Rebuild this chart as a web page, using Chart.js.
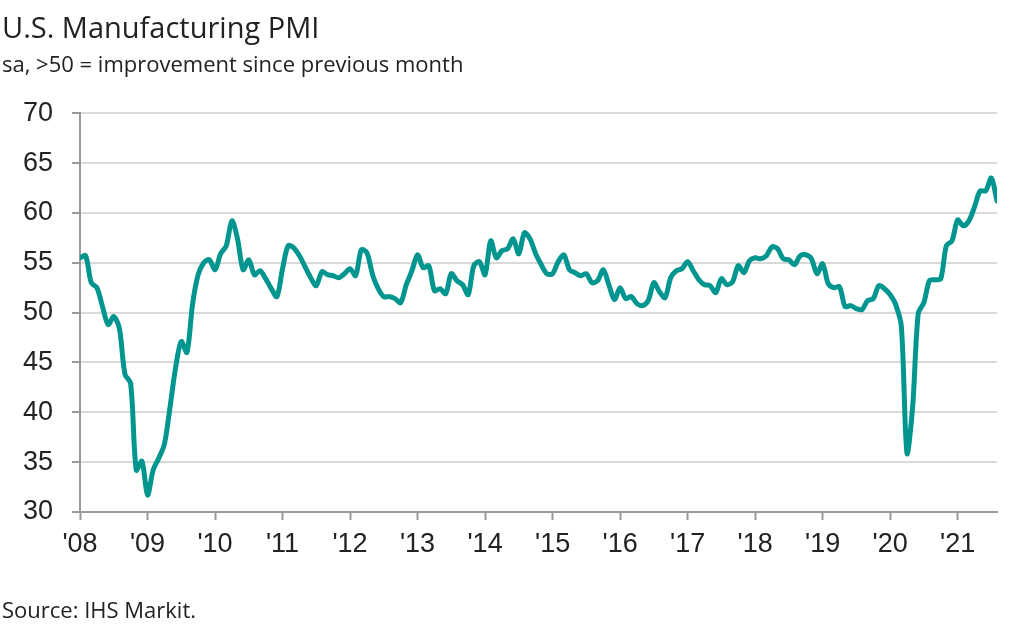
<!DOCTYPE html>
<html>
<head>
<meta charset="utf-8">
<script src="https://cdn.jsdelivr.net/npm/chart.js@4"></script>
<style>
  html, body { margin: 0; padding: 0; background: #fff; }
  #wrap { position: relative; width: 1024px; height: 641px; }
  #source { position: absolute; left: 2px; top: 598px; font: 22px "Open Sans", sans-serif; line-height: 22px; color: #222; }
</style>
</head>
<body>
<div id="wrap">
  <canvas id="pmi_chart" width="1024" height="641"></canvas>
  <div id="source">Source: IHS Markit.</div>
</div>
<script>
// monthly PMI, Jan 2008 .. Aug 2021
const pmi2008 = [55.5, 55.7, 53.0, 52.5, 50.6, 48.8, 49.6, 48.4, 43.8, 42.9, 34.2, 35.1];
const pmi2009 = [31.7, 34.2, 35.4, 36.8, 40.5, 44.5, 47.1, 46.0, 50.8, 53.8, 55.0, 55.3];
const pmi2010 = [54.3, 55.9, 56.7, 59.2, 57.4, 54.3, 55.3, 53.8, 54.2, 53.4, 52.4, 51.6];
const pmi2011 = [54.4, 56.7, 56.5, 55.7, 54.6, 53.5, 52.7, 54.1, 53.8, 53.7, 53.5, 53.9];
const pmi2012 = [54.4, 53.7, 56.3, 56.0, 53.8, 52.4, 51.6, 51.6, 51.4, 51.0, 52.8, 54.2];
const pmi2013 = [55.8, 54.5, 54.7, 52.2, 52.4, 51.9, 53.9, 53.2, 52.8, 51.8, 54.7, 55.1];
const pmi2014 = [53.8, 57.2, 55.5, 56.2, 56.4, 57.4, 55.9, 58.0, 57.4, 55.9, 54.8, 53.9];
const pmi2015 = [53.9, 55.1, 55.8, 54.3, 54.0, 53.7, 53.9, 53.0, 53.2, 54.3, 52.8, 51.3];
const pmi2016 = [52.5, 51.4, 51.6, 50.9, 50.7, 51.2, 53.0, 52.1, 51.5, 53.5, 54.2, 54.4];
const pmi2017 = [55.1, 54.2, 53.3, 52.8, 52.7, 52.0, 53.4, 52.8, 53.1, 54.7, 54.0, 55.2];
const pmi2018 = [55.5, 55.4, 55.7, 56.6, 56.4, 55.4, 55.3, 54.8, 55.7, 55.8, 55.4, 53.9];
const pmi2019 = [54.9, 52.9, 52.5, 52.6, 50.6, 50.7, 50.4, 50.3, 51.2, 51.4, 52.7, 52.4];
const pmi2020 = [51.8, 50.8, 48.6, 35.9, 40.5, 49.9, 51.0, 53.2, 53.3, 53.4, 56.7, 57.2];
const pmi2021 = [59.3, 58.7, 59.2, 60.6, 62.2, 62.2, 63.5, 61.2];

const yearLabels = ["'08", "'09", "'10", "'11", "'12", "'13", "'14", "'15", "'16", "'17", "'18", "'19", "'20", "'21"];
const yTicks = [30, 35, 40, 45, 50, 55, 60, 65, 70];

const pmi = [].concat(pmi2008, pmi2009, pmi2010, pmi2011, pmi2012, pmi2013, pmi2014,
  pmi2015, pmi2016, pmi2017, pmi2018, pmi2019, pmi2020, pmi2021);
const points = pmi.map((v, i) => ({ x: i, y: v }));

const axisGray = '#9a9a9a';

const ctx = document.getElementById('pmi_chart');
new Chart(ctx, {
  type: 'line',
  data: {
    datasets: [{
      data: points,
      borderColor: '#00968F',
      borderWidth: 5,
      pointRadius: 0,
      tension: 0.3,
      borderJoinStyle: 'round',
      borderCapStyle: 'round',
    }]
  },
  options: {
    responsive: false,
    animation: false,
    layout: { padding: { top: 0, right: 27, bottom: 0, left: 2 } },
    plugins: {
      legend: { display: false },
      tooltip: { enabled: false },
      title: {
        display: true,
        text: 'U.S. Manufacturing PMI',
        align: 'start',
        color: '#222',
        font: { family: 'Open Sans', size: 29, weight: 'normal', lineHeight: 1.2 },
        padding: { top: 12, bottom: 0 },
      },
      subtitle: {
        display: true,
        text: 'sa, >50 = improvement since previous month',
        align: 'start',
        color: '#222',
        font: { family: 'Open Sans', size: 22, weight: 'normal', lineHeight: 1.2 },
        padding: { top: 6, bottom: 34 },
      },
    },
    scales: {
      x: {
        type: 'linear',
        min: 0,
        max: pmi.length - 1,
        afterBuildTicks: (scale) => {
          scale.ticks = yearLabels.map((_, i) => ({ value: i * 12 }));
        },
        afterFit: (scale) => { scale.height = 129; },
        ticks: {
          autoSkip: false,
          maxRotation: 0,
          padding: 8,
          color: '#222',
          font: { family: 'Liberation Sans', size: 27 },
          callback: (v) => yearLabels[v / 12],
        },
        grid: { drawOnChartArea: false, drawTicks: true, tickLength: 8, tickColor: axisGray, tickWidth: 2 },
        border: { display: true, color: axisGray, width: 2 },
      },
      y: {
        min: 30,
        max: 70,
        afterBuildTicks: (scale) => {
          scale.ticks = yTicks.map(v => ({ value: v }));
        },
        afterFit: (scale) => { scale.width = 78; },
        ticks: {
          padding: 19,
          color: '#222',
          font: { family: 'Liberation Sans', size: 27 },
        },
        grid: { color: '#d9d9d9', lineWidth: 2, tickLength: 8, tickColor: axisGray, tickWidth: 2 },
        border: { display: true, color: axisGray, width: 2 },
      }
    }
  }
});
</script>
</body>
</html>
